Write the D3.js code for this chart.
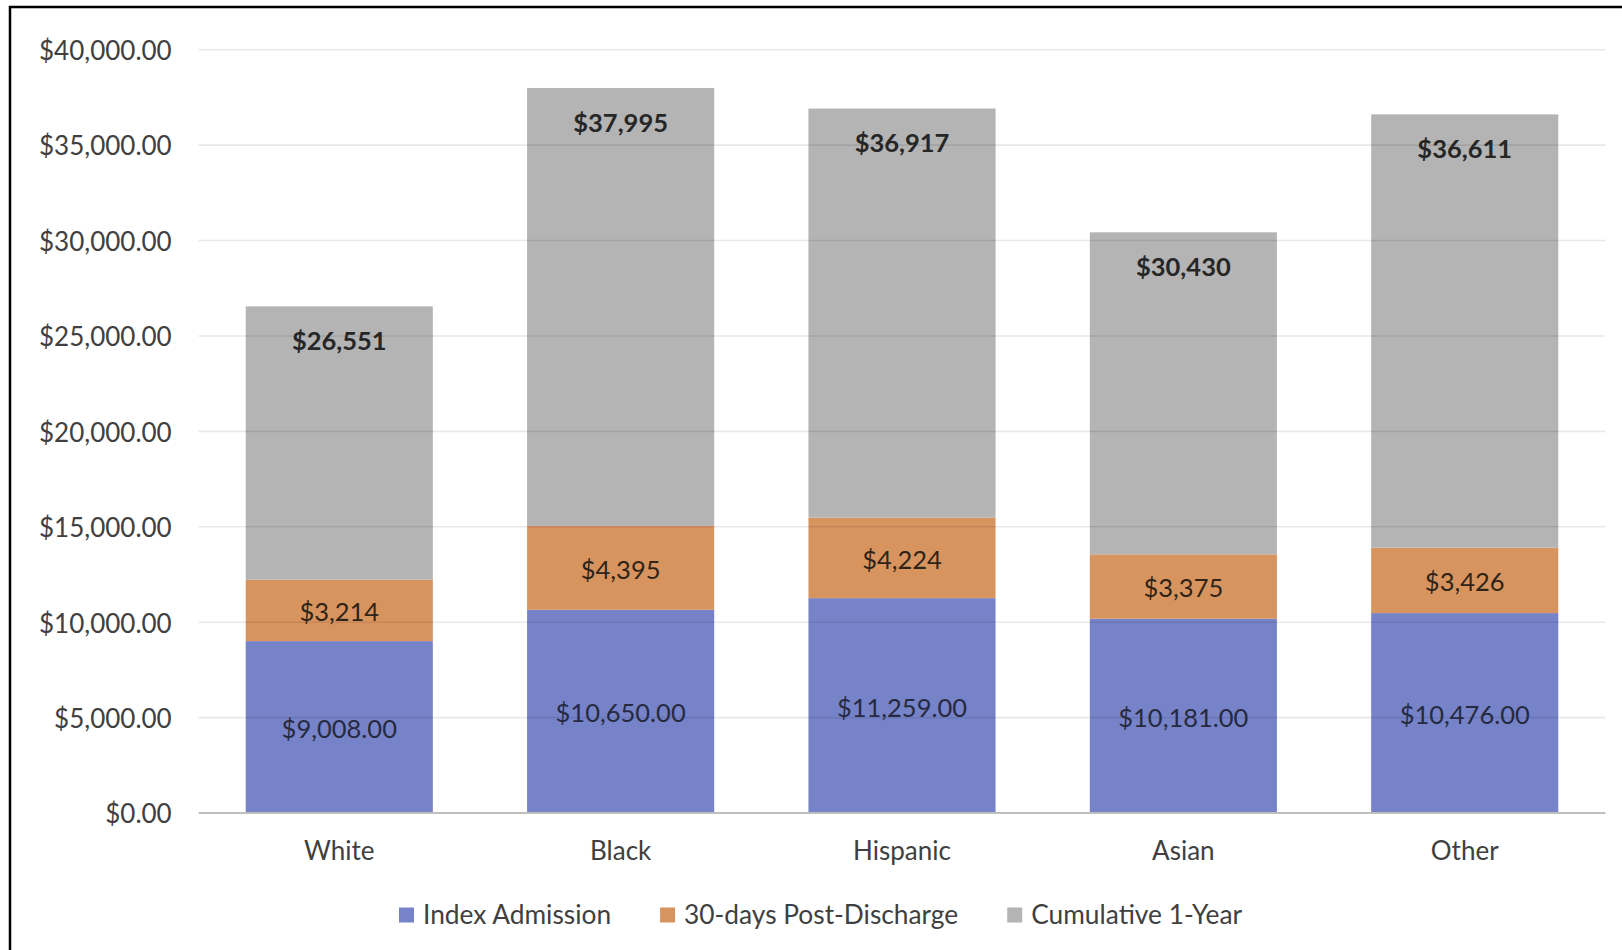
<!DOCTYPE html>
<html>
<head>
<meta charset="utf-8">
<script src="https://cdn.jsdelivr.net/npm/d3@7"></script>
<style>
  html, body { margin: 0; padding: 0; background: #fff; }
  svg { display: block; font-family: Lato, "Open Sans", sans-serif; }
</style>
</head>
<body>
<svg id="chart" width="1622" height="950"></svg>
<script>
// Cost per patient by race/ethnicity
const categories = ["White", "Black", "Hispanic", "Asian", "Other"];
const indexAdmission = [9008, 10650, 11259, 10181, 10476];
const postDischarge30 = [3214, 4395, 4224, 3375, 3426];
const cumulative1Year = [26551, 37995, 36917, 30430, 36611];
const seriesNames = ["Index Admission", "30-days Post-Discharge", "Cumulative 1-Year"];
const yTicks = [0, 5000, 10000, 15000, 20000, 25000, 30000, 35000, 40000];

const colors = ["#7683c8", "#d8945f", "#b4b4b4"];

const W = 1622, H = 950;
const plot = { left: 198.6, right: 1605.4, top: 49.7, bottom: 813 };
const FS = 26;
const TEXT_SHIFT = 2; // nudges text baselines slightly downward

const svg = d3.select("#chart");

// Stacked rows: the cumulative segment spans from the 30-day top to the 1-year total
const rows = categories.map((c, i) => ({
  category: c,
  idx: indexAdmission[i],
  d30: postDischarge30[i],
  rest: cumulative1Year[i] - indexAdmission[i] - postDischarge30[i],
  total: cumulative1Year[i]
}));
const stack = d3.stack().keys(["idx", "d30", "rest"])(rows);

const x = d3.scaleBand()
  .domain(categories)
  .range([plot.left, plot.right])
  .paddingInner(0.335)
  .paddingOuter(0.1675);

const y = d3.scaleLinear()
  .domain([0, 40000])
  .range([plot.bottom, plot.top]);

// Bars
const layers = svg.append("g").selectAll("g")
  .data(stack)
  .join("g")
  .attr("fill", (d, i) => colors[i]);

layers.selectAll("rect")
  .data(d => d)
  .join("rect")
  .attr("x", d => x(d.data.category))
  .attr("width", x.bandwidth())
  .attr("y", d => y(d[1]))
  .attr("height", d => y(d[0]) - y(d[1]));

// Horizontal gridlines (drawn over the bars, faint)
const gridG = svg.append("g");
gridG.selectAll("line")
  .data(yTicks.filter(t => t > 0))
  .join("line")
  .attr("x1", plot.left)
  .attr("x2", plot.right)
  .attr("y1", d => y(d))
  .attr("y2", d => y(d))
  .attr("stroke", "#000")
  .attr("stroke-opacity", 0.09)
  .attr("stroke-width", 1.6);

// Baseline
svg.append("line")
  .attr("x1", plot.left).attr("x2", plot.right)
  .attr("y1", y(0)).attr("y2", y(0))
  .attr("stroke", "#bfbfbf")
  .attr("stroke-width", 2);

// Y axis labels
const yAxis = d3.axisLeft(y)
  .tickValues(yTicks)
  .tickSize(0)
  .tickPadding(0)
  .tickFormat(d => "$" + d3.format(",.2f")(d));

const yG = svg.append("g")
  .attr("transform", `translate(${171.7},${TEXT_SHIFT - 0.5})`)
  .call(yAxis);
yG.select(".domain").remove();
yG.selectAll("text")
  .attr("fill", "#404040")
  .style("font-family", "Lato, sans-serif")
  .style("font-size", FS + "px");

// X axis labels
const xAxis = d3.axisBottom(x).tickSize(0).tickPadding(0);
const xG = svg.append("g")
  .attr("transform", `translate(0,${851})`)
  .call(xAxis);
xG.select(".domain").remove();
xG.selectAll("text")
  .attr("fill", "#404040")
  .attr("dy", "0.35em")
  .style("font-family", "Lato, sans-serif")
  .style("font-size", FS + "px");

// Data labels
const money0 = d3.format("$,.0f");
const money2 = d3.format("$,.2f");
const labels = svg.append("g")
  .attr("text-anchor", "middle")
  .attr("transform", `translate(0,${TEXT_SHIFT})`);

// Index admission: centered in segment
labels.selectAll("text.idx")
  .data(stack[0])
  .join("text")
  .attr("class", "idx")
  .attr("x", d => x(d.data.category) + x.bandwidth() / 2)
  .attr("y", d => (y(d[0]) + y(d[1])) / 2)
  .attr("dy", "0.35em")
  .attr("fill", "#262a40")
  .style("font-size", (FS - 0.5) + "px")
  .text(d => money2(d.data.idx));

// 30-day: centered in segment
labels.selectAll("text.d30")
  .data(stack[1])
  .join("text")
  .attr("class", "d30")
  .attr("x", d => x(d.data.category) + x.bandwidth() / 2)
  .attr("y", d => (y(d[0]) + y(d[1])) / 2)
  .attr("dy", "0.35em")
  .attr("fill", "#2f2418")
  .style("font-size", (FS - 0.5) + "px")
  .text(d => money0(d.data.d30));

// Cumulative 1-year total: inside the top of the bar, bold
labels.selectAll("text.tot")
  .data(stack[2])
  .join("text")
  .attr("class", "tot")
  .attr("x", d => x(d.data.category) + x.bandwidth() / 2)
  .attr("y", d => y(d[1]) + 33)
  .attr("dy", "0.35em")
  .attr("fill", "#262626")
  .style("font-size", (FS - 0.5) + "px")
  .style("font-weight", "bold")
  .text(d => money0(d.data.total));

// Legend
const legend = svg.append("g").attr("transform", `translate(0,${915})`);
let lx = 399;
seriesNames.forEach((name, i) => {
  legend.append("rect")
    .attr("x", lx).attr("y", -7.5)
    .attr("width", 15).attr("height", 15)
    .attr("fill", colors[i]);
  const t = legend.append("text")
    .attr("x", lx + 24)
    .attr("dy", "0.35em")
    .attr("fill", "#404040")
    .style("font-size", (FS + 0.3) + "px")
    .text(name);
  lx += 24 + t.node().getComputedTextLength() + 49;
});

// Frame (left and top edges)
svg.append("path")
  .attr("d", `M10,${H} L10,7 L${W},7`)
  .attr("fill", "none")
  .attr("stroke", "#000")
  .attr("stroke-width", 2.5);
</script>
</body>
</html>
